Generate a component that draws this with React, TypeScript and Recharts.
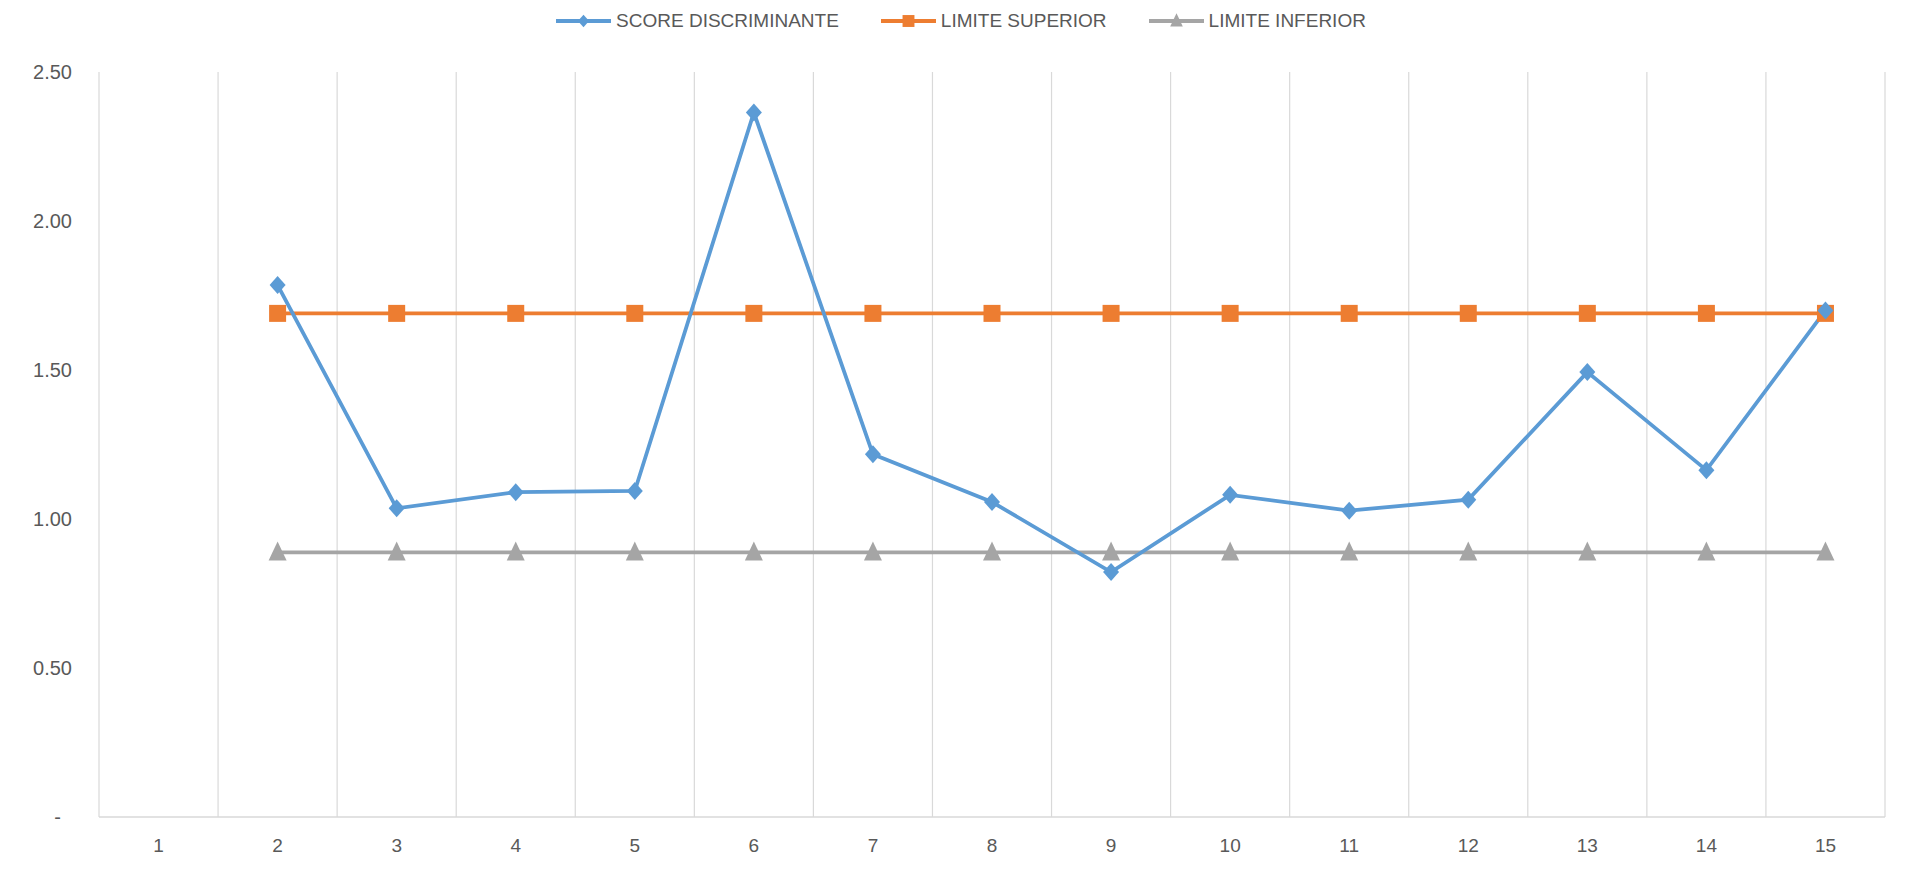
import React from "react";
import { LineChart, Line, XAxis, YAxis, CartesianGrid, Legend } from "recharts";

const categories = ["1", "2", "3", "4", "5", "6", "7", "8", "9", "10", "11", "12", "13", "14", "15"];
const scoreDiscriminante: (number | null)[] = [null, 1.785, 1.036, 1.09, 1.094, 2.364, 1.217, 1.057, 0.822, 1.081, 1.028, 1.065, 1.493, 1.164, 1.70];
const limiteSuperior: (number | null)[] = [null, 1.69, 1.69, 1.69, 1.69, 1.69, 1.69, 1.69, 1.69, 1.69, 1.69, 1.69, 1.69, 1.69, 1.69];
const limiteInferior: (number | null)[] = [null, 0.888, 0.888, 0.888, 0.888, 0.888, 0.888, 0.888, 0.888, 0.888, 0.888, 0.888, 0.888, 0.888, 0.888];
const yTicks = [0, 0.5, 1, 1.5, 2, 2.5];

const BLUE = "#5B9BD5";
const ORANGE = "#ED7D31";
const GRAY = "#A5A5A5";
const TEXT = "#595959";
const FONT = "'Liberation Sans', Arial, sans-serif";

const data = categories.map((c, i) => ({
  cat: c,
  score: scoreDiscriminante[i],
  sup: limiteSuperior[i],
  inf: limiteInferior[i],
}));

const Diamond = ({ cx, cy, color }: any) => (
  <path d={`M${cx},${cy - 9} L${cx + 8},${cy} L${cx},${cy + 9} L${cx - 8},${cy} Z`} fill={color} />
);
const Square = ({ cx, cy, color }: any) => (
  <rect x={cx - 8.5} y={cy - 8.5} width={17} height={17} fill={color} />
);
const Triangle = ({ cx, cy, color }: any) => (
  <path d={`M${cx},${cy - 11} L${cx + 9},${cy + 8} L${cx - 9},${cy + 8} Z`} fill={color} />
);

const makeDot = (Shape: any, color: string) => (props: any) => {
  const { cx, cy, index, value } = props;
  if (cx == null || cy == null || value == null || (Array.isArray(value) && value[1] == null)) {
    return <g key={`e-${index}`} />;
  }
  return <Shape key={`d-${index}`} cx={cx} cy={cy} color={color} />;
};

const legendItems = [
  { name: "SCORE DISCRIMINANTE", color: BLUE, Shape: Diamond },
  { name: "LIMITE SUPERIOR", color: ORANGE, Shape: Square },
  { name: "LIMITE INFERIOR", color: GRAY, Shape: Triangle },
];

const LegendContent = () => (
  <div style={{ display: "flex", justifyContent: "center", alignItems: "center", fontFamily: FONT, fontSize: 19, color: TEXT, height: 22, lineHeight: "22px" }}>
    {legendItems.map((it) => (
      <div key={it.name} style={{ display: "flex", alignItems: "center", margin: "0 21px" }}>
        <svg width={55} height={20} style={{ marginRight: 5 }}>
          <line x1={0} y1={10} x2={55} y2={10} stroke={it.color} strokeWidth={4} />
          <g transform="translate(27.5,10) scale(0.7) translate(-27.5,-10)">
            <it.Shape cx={27.5} cy={10} color={it.color} />
          </g>
        </svg>
        <span>{it.name}</span>
      </div>
    ))}
  </div>
);

const yFormat = (v: number) => (v === 0 ? "-\u00a0\u00a0" : v.toFixed(2));

const gridGen = (args: any) => {
  const off = args && args.offset;
  if (!off) return [];
  const n = categories.length;
  const out: number[] = [];
  for (let i = 0; i <= n; i++) out.push(off.left + (off.width * i) / n);
  return out;
};

export default function App() {
  return (
    <div style={{ width: 1908, height: 863, borderLeft: "1px solid #d9d9d9", borderRight: "1px solid #d9d9d9", boxSizing: "border-box", marginLeft: -1 }}>
      <LineChart width={1906} height={863} data={data} margin={{ top: 42, right: 29, left: 0, bottom: 14 }}>
        <CartesianGrid horizontal={false} vertical={true} stroke="#d9d9d9" strokeWidth={1.2} verticalCoordinatesGenerator={gridGen} />
        <XAxis
          dataKey="cat"
          scale="band"
          height={40}
          tickLine={false}
          tickSize={0}
          tickMargin={22}
          axisLine={{ stroke: "#d9d9d9", strokeWidth: 1.5 }}
          tick={{ fill: TEXT, fontSize: 19, fontFamily: FONT }}
          interval={0}
        />
        <YAxis
          width={91}
          domain={[0, 2.5]}
          ticks={yTicks}
          tickFormatter={yFormat}
          axisLine={false}
          tickLine={false}
          tickSize={0}
          tickMargin={27}
          tick={{ fill: TEXT, fontSize: 20, fontFamily: FONT }}
        />
        <Legend verticalAlign="top" align="center" content={<LegendContent />} wrapperStyle={{ top: 2, left: 0, width: 1906 }} />
        <Line type="linear" dataKey="sup" name="LIMITE SUPERIOR" stroke={ORANGE} strokeWidth={3.8} dot={makeDot(Square, ORANGE)} activeDot={false} isAnimationActive={false} />
        <Line type="linear" dataKey="inf" name="LIMITE INFERIOR" stroke={GRAY} strokeWidth={3.8} dot={makeDot(Triangle, GRAY)} activeDot={false} isAnimationActive={false} />
        <Line type="linear" dataKey="score" name="SCORE DISCRIMINANTE" stroke={BLUE} strokeWidth={3.8} dot={makeDot(Diamond, BLUE)} activeDot={false} isAnimationActive={false} />
      </LineChart>
    </div>
  );
}
